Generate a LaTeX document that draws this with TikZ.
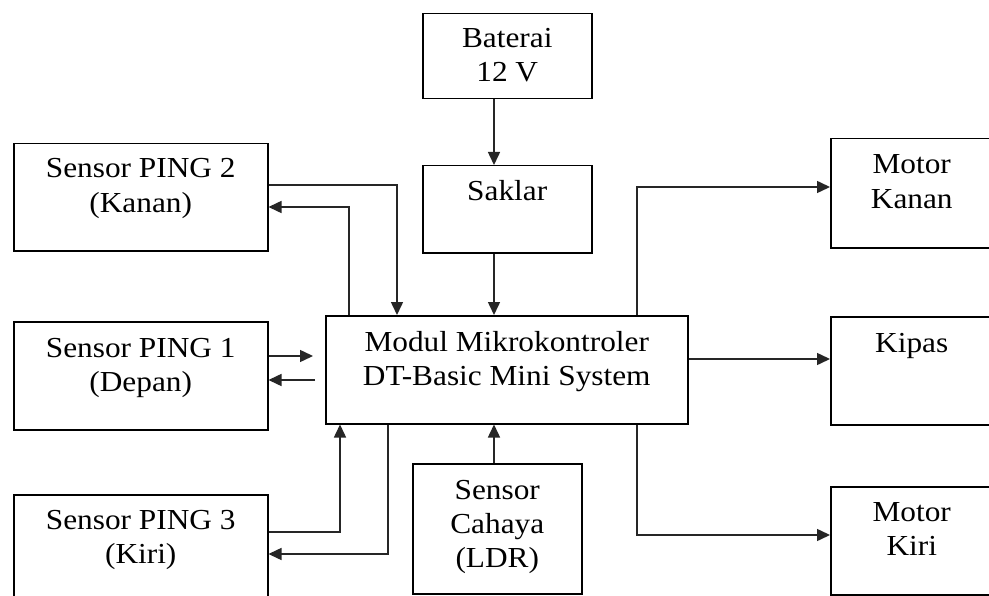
\documentclass[tikz,border=0pt]{standalone}
\usepackage{fontspec}
\setmainfont{Liberation Serif}[FakeStretch=1.08]
\usetikzlibrary{arrows.meta}

% several centred lines whose first baseline is the box's baseline
\newcommand{\blines}[1]{\begin{tabular}[t]{@{}c@{}}#1\end{tabular}}

\begin{document}
\begin{tikzpicture}[x=1bp,y=-1bp,
  font=\fontsize{29bp}{34bp}\selectfont,
  blk/.style={draw=black, line width=1.5bp, rectangle, inner sep=0pt, anchor=north west},
  txt/.style={anchor=base, inner sep=0pt},
  arr/.style={draw=black!85, line width=1.5bp, -{Triangle[length=13bp,width=12bp]}}]

\useasboundingbox (0,0) rectangle (989,596);
\clip (0,0) rectangle (989,596);
\fill[white] (0,0) rectangle (989,596);

% blocks
\node[blk, minimum width=169bp, minimum height=85bp]  (bat) at (422,13)  {};
\node[blk, minimum width=169bp, minimum height=87bp]  (sak) at (422,165) {};
\node[blk, minimum width=254bp, minimum height=107bp] (p2)  at (13,143)  {};
\node[blk, minimum width=254bp, minimum height=108bp] (p1)  at (13,321)  {};
\node[blk, minimum width=254bp, minimum height=108bp] (p3)  at (13,494)  {};
\node[blk, minimum width=362bp, minimum height=108bp] (mod) at (325,315) {};
\node[blk, minimum width=169bp, minimum height=130bp] (ldr) at (412,463) {};
\node[blk, minimum width=162bp, minimum height=109bp] (mka) at (830,138) {};
\node[blk, minimum width=162bp, minimum height=108bp] (kip) at (830,316) {};
\node[blk, minimum width=162bp, minimum height=108bp] (mki) at (830,486) {};

% block texts
\node[txt] (batt) at ([yshift=-35bp]bat.north) {\blines{Baterai\\12 V}};
\node[txt] (sakt) at ([yshift=-35bp]sak.north) {\blines{Saklar}};
\node[txt] (p2t)  at ([yshift=-35bp]p2.north)  {\blines{Sensor PING 2\\(Kanan)}};
\node[txt] (p1t)  at ([yshift=-36bp]p1.north)  {\blines{Sensor PING 1\\(Depan)}};
\node[txt] (p3t)  at ([yshift=-35bp]p3.north)  {\blines{Sensor PING 3\\(Kiri)}};
\node[txt] (modt) at ([yshift=-36bp]mod.north) {\blines{Modul Mikrokontroler\\DT-Basic Mini System}};
\node[txt] (ldrt) at ([yshift=-36bp]ldr.north) {\blines{Sensor\\Cahaya\\(LDR)}};
\node[txt] (mkat) at ([yshift=-36bp]mka.north) {\blines{Motor\\Kanan}};
\node[txt] (kipt) at ([yshift=-36bp]kip.north) {\blines{Kipas}};
\node[txt] (mkit) at ([yshift=-35bp]mki.north) {\blines{Motor\\Kiri}};

% vertical and horizontal routing lines
\coordinate (cx)   at (494,0);
\coordinate (p2o)  at (397,185);
\coordinate (p2i)  at (349,207);
\coordinate (p3o)  at (340,532);
\coordinate (p3i)  at (388,554);
\coordinate (mkao) at (637,187);
\coordinate (mkio) at (637,535);

% power and light sensor
\draw[arr] (cx |- bat.south) -- (cx |- sak.north);
\draw[arr] (cx |- sak.south) -- (cx |- mod.north);
\draw[arr] (cx |- ldr.north) -- (cx |- mod.south);

% PING 2
\draw[arr] (p2.east |- p2o) -| (p2o |- mod.north);
\draw[arr] (p2i |- mod.north) |- (p2.east |- p2i);

% PING 1
\draw[arr] (p1.east |- 0,356) -- (313,356);
\draw[arr] (315,380) -- (p1.east |- 0,380);

% PING 3
\draw[arr] (p3.east |- p3o) -| (p3o |- mod.south);
\draw[arr] (p3i |- mod.south) |- (p3.east |- p3i);

% outputs
\draw[arr] (mkao |- mod.north) |- (mka.west |- mkao);
\draw[arr] (mod.east |- 0,359) -- (kip.west |- 0,359);
\draw[arr] (mkio |- mod.south) |- (mki.west |- mkio);

\end{tikzpicture}
\end{document}
